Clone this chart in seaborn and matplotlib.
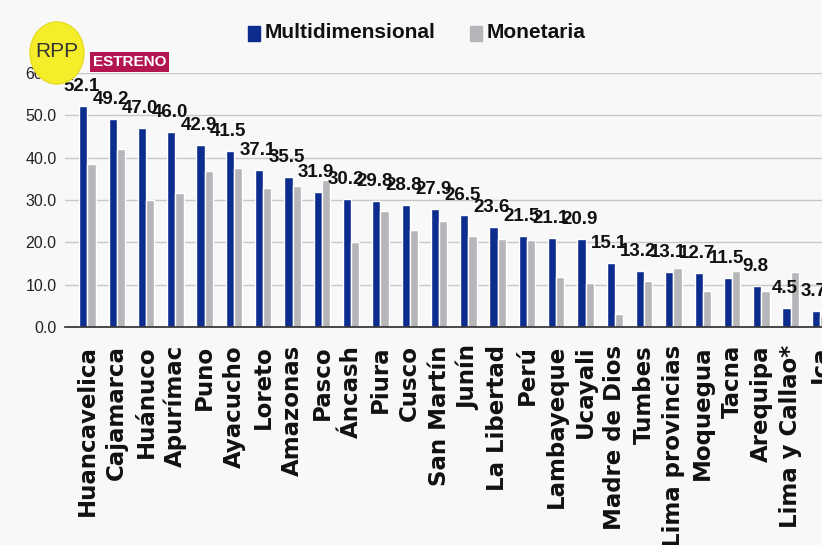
import pandas as pd
import numpy as np
import seaborn as sns
import matplotlib.pyplot as plt
from matplotlib.patches import Ellipse

regiones = ['Huancavelica', 'Cajamarca', 'Huánuco', 'Apurímac', 'Puno', 'Ayacucho',
            'Loreto', 'Amazonas', 'Pasco', 'Áncash', 'Piura', 'Cusco', 'San Martín',
            'Junín', 'La Libertad', 'Perú', 'Lambayeque', 'Ucayali', 'Madre de Dios',
            'Tumbes', 'Lima provincias', 'Moquegua', 'Tacna', 'Arequipa',
            'Lima y Callao*', 'Ica']
multidimensional = [52.1, 49.2, 47.0, 46.0, 42.9, 41.5, 37.1, 35.5, 31.9, 30.2, 29.8,
                    28.8, 27.9, 26.5, 23.6, 21.5, 21.1, 20.9, 15.1, 13.2, 13.1, 12.7,
                    11.5, 9.8, 4.5, 3.7]
monetaria = [38.6, 42.0, 29.9, 31.7, 36.8, 37.6, 32.9, 33.4, 34.8, 20.0, 27.3, 22.8,
             25.0, 21.4, 20.8, 20.5, 11.9, 10.5, 3.1, 10.9, 13.9, 8.5, 13.3, 8.5,
             13.0, 2.7]
yticks = [0, 10, 20, 30, 40, 50, 60]

df = pd.DataFrame({'region': regiones * 2,
                   'valor': multidimensional + monetaria,
                   'tipo': ['Multidimensional'] * len(regiones) + ['Monetaria'] * len(regiones)})

azul = '#0c2c8e'
gris = '#b6b6ba'
fondo = '#f7f8f7'

sns.set_theme(style='white')
plt.rcParams['font.family'] = ['Liberation Sans', 'DejaVu Sans']

fig = plt.figure(figsize=(8.22, 5.45), dpi=100, facecolor=fondo)
ax = fig.add_axes([0.079, 0.40, 0.921, 0.466])
ax.set_facecolor(fondo)

sns.barplot(data=df, x='region', y='valor', hue='tipo', palette=[azul, gris],
            width=0.56, ax=ax, legend=False, saturation=1)

ax.set_ylim(0, 60)
ax.set_xlim(-0.77, 25.07)
ax.set_yticks(yticks)
ax.set_yticklabels([f'{v:.1f}' for v in yticks], fontsize=11.5, color='#222222')
ax.yaxis.grid(True, color='#c8c8c8', linewidth=1)
ax.set_axisbelow(True)
ax.tick_params(axis='y', length=0, pad=6)

for s in ['top', 'right', 'left']:
    ax.spines[s].set_visible(False)
ax.spines['bottom'].set_color('#333333')

# nombres de regiones y ticks entre categorias
ax.set_xticks(np.arange(len(regiones)))
ax.set_xticklabels(regiones, rotation=90, fontsize=16.5, fontfamily=['DejaVu Sans'],
                   fontweight='bold', color='#111111')
ax.tick_params(axis='x', length=0, pad=13)
ax.set_xticks(np.arange(len(regiones)) - 0.5, minor=True)
ax.tick_params(axis='x', which='minor', length=10, direction='inout', color='#333333', width=1)
ax.set_xlabel('')
ax.set_ylabel('')

for i, v in enumerate(multidimensional):
    ax.text(i - 0.2, v + 2.6, f'{v:.1f}', ha='center', va='bottom', fontsize=13.5,
            fontweight='bold', color='#111111')

# leyenda
fig.patches.append(plt.Rectangle((0.302, 0.925), 0.014, 0.028, color=azul,
                                 transform=fig.transFigure))
fig.text(0.322, 0.94, 'Multidimensional', fontsize=15, fontweight='bold',
         va='center', color='#111111')
fig.patches.append(plt.Rectangle((0.572, 0.925), 0.014, 0.028, color=gris,
                                 transform=fig.transFigure))
fig.text(0.592, 0.94, 'Monetaria', fontsize=15, fontweight='bold',
         va='center', color='#111111')

# logo y etiqueta
logo = Ellipse((0.57, 4.92), 0.54, 0.62, transform=fig.dpi_scale_trans,
               facecolor='#f4ee2a', edgecolor='#e8dc20', zorder=5)
fig.patches.append(logo)
fig.text(0.069, 0.905, 'RPP', fontsize=15, color='#333333', ha='center', va='center',
         zorder=6)
fig.text(0.113, 0.886, 'ESTRENO', fontsize=11, fontweight='bold', color='white',
         ha='left', va='center', zorder=6,
         bbox=dict(boxstyle='square,pad=0.2', facecolor='#b31550', edgecolor='none'))

fig.savefig('out.png', dpi=100, facecolor=fondo)
